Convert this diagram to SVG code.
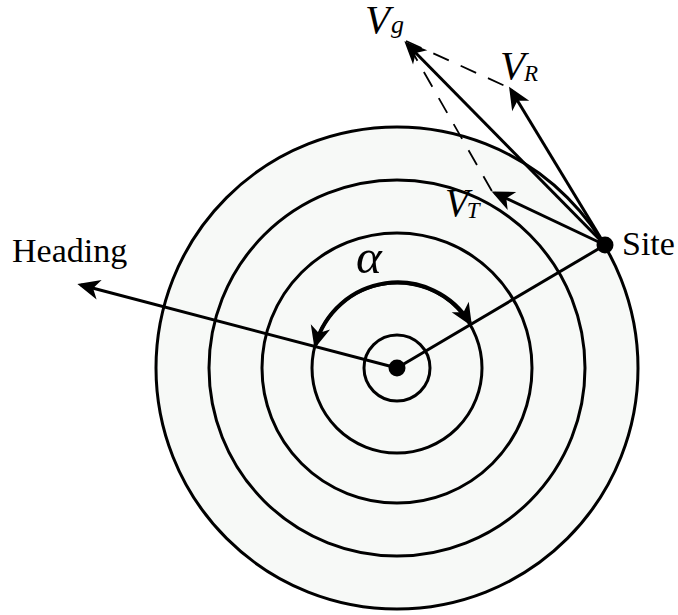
<svg xmlns="http://www.w3.org/2000/svg" width="678" height="615" viewBox="0 0 678 615">
<defs>
<style>
.ring{fill:#f7f9f7;stroke:#000;stroke-width:3}
.ln{fill:none;stroke:#000;stroke-width:3}
.dash{fill:none;stroke:#000;stroke-width:1.8;stroke-dasharray:17 13}
.t{font-family:"Liberation Serif","Times New Roman",serif;fill:#000}
.it{font-style:italic}
</style>
<marker id="ah" markerUnits="userSpaceOnUse" markerWidth="30" markerHeight="30" viewBox="-18 -10 24 20" refX="0" refY="0" orient="auto-start-reverse">
<path d="M3,0 L-15,-8 L-10,0 L-15,8 Z" fill="#000"/>
</marker>
</defs>
<rect width="678" height="615" fill="#fff"/>
<g id="rings">
<circle class="ring" cx="397" cy="368" r="241"/>
<circle class="ring" cx="397" cy="368" r="188"/>
<circle class="ring" cx="397" cy="368" r="135"/>
<circle class="ring" cx="397" cy="368" r="85"/>
<circle class="ring" cx="397" cy="368" r="33"/>
</g>
<g id="connectors">
<line class="ln" x1="397" y1="368" x2="81" y2="285" marker-end="url(#ah)"/>
<line class="ln" x1="397" y1="368" x2="605" y2="245"/>
<path class="ln" style="stroke-width:4" d="M315.5,345 A85 85 0 0 1 470,323" marker-start="url(#ah)" marker-end="url(#ah)"/>
<line class="ln" x1="605" y1="245" x2="407" y2="44" marker-end="url(#ah)"/>
<line class="ln" x1="605" y1="245" x2="511" y2="90" marker-end="url(#ah)"/>
<line class="ln" x1="605" y1="245" x2="495" y2="193" marker-end="url(#ah)"/>
<line class="dash" x1="406" y1="41" x2="514" y2="90"/>
<line class="dash" x1="409" y1="46" x2="493" y2="193"/>
</g>
<g id="center">
<circle cx="397" cy="368" r="8.5" fill="#000"/>
</g>
<g id="site">
<circle cx="605" cy="245" r="8.5" fill="#000"/>
<text class="t" x="622" y="255" font-size="34">Site</text>
</g>
<g id="heading">
<text class="t" x="12" y="262" font-size="34">Heading</text>
</g>
<g id="alpha">
<text class="t it" x="356" y="273" font-size="49">α</text>
</g>
<g id="Vg">
<text class="t it" x="365" y="33" font-size="41">V<tspan font-size="26" dx="1">g</tspan></text>
</g>
<g id="VR">
<text class="t it" x="500" y="79" font-size="41">V<tspan font-size="23" dx="-1" dy="2">R</tspan></text>
</g>
<g id="VT">
<text class="t it" x="445" y="216" font-size="39">V<tspan font-size="23" dx="-2" dy="2">T</tspan></text>
</g>
</svg>
